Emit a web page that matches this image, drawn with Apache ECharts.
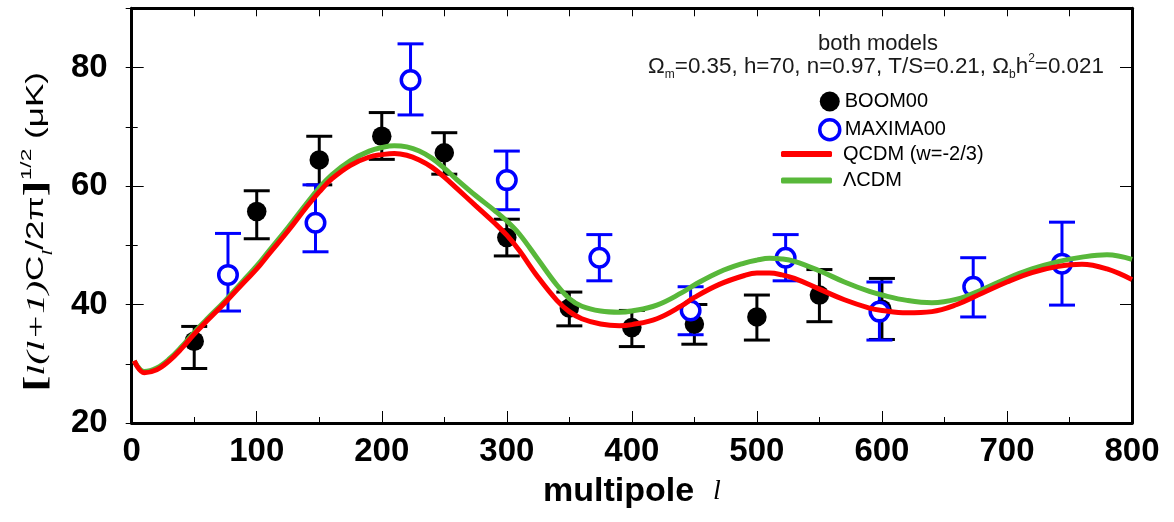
<!DOCTYPE html>
<html><head><meta charset="utf-8">
<script src="https://cdn.jsdelivr.net/npm/echarts@6/dist/echarts.min.js"></script>
<style>html,body{margin:0;padding:0;background:#fff}#c{width:1174px;height:522px}</style>
</head><body><div id="c"></div>
<script>
// ---- data ----
const ells = [2,10,20,30,40,50,60,75,90,100,110,125,140,150,160,175,190,200,210,220,230,240,250,260,275,290,300,310,325,340,350,360,375,390,400,420,440,450,470,490,500,510,520,530,550,570,590,600,620,640,660,680,700,720,740,760,780,800];
const qcdm = [30.5,28.5,29.0,30.5,32.6,35.0,37.2,40.4,43.8,46.0,48.6,52.4,56.5,59.0,61.2,63.5,64.9,65.3,65.5,65.2,64.4,63.2,61.5,59.6,56.7,53.8,51.7,49.1,44.6,40.7,38.8,37.6,36.7,36.4,36.6,37.6,39.8,41.2,43.4,44.9,45.3,45.3,45.0,44.4,42.6,40.8,39.4,39.0,38.6,38.8,40.0,41.9,43.8,45.4,46.4,46.8,46.0,44.2];
const lcdm = [30.5,28.7,29.3,30.8,32.9,35.3,37.5,40.7,44.2,46.5,49.1,53.0,57.1,59.7,61.9,64.3,65.9,66.5,66.8,66.6,65.9,64.7,63.0,61.1,58.4,55.9,54.1,51.9,47.6,43.3,41.0,39.7,38.9,38.7,38.9,39.9,42.0,43.3,45.5,47.0,47.5,47.8,47.7,47.3,45.7,43.8,42.2,41.6,40.7,40.3,40.9,42.5,44.4,46.0,47.2,48.0,48.4,47.6];

const boomL  = [50,100,150,200,250,300,350,400,450,500,550,600];
const boomY  = [33.8,55.7,64.4,68.4,65.6,51.3,39.4,36.1,36.7,37.9,41.6,39.2];
const boomHi = [36.3,59.2,68.4,72.4,69.0,54.4,42.1,39.0,40.0,41.6,45.9,44.4];
const boomLo = [29.2,51.1,60.2,64.5,62.0,48.2,36.4,32.9,33.3,34.0,37.1,34.1];

const maxL  = [77,147,223,300,374,447,523,598,673,744];
const maxY  = [45.0,53.8,77.9,61.0,47.9,39.0,47.9,38.8,43.0,46.9];
const maxHi = [52.0,60.2,84.0,65.9,51.8,43.0,51.8,43.8,47.9,53.9];
const maxLo = [38.9,48.9,72.0,56.0,44.0,34.9,44.0,34.0,37.9,39.9];

const xTicks = {min:0, max:800, step:100};
const yTicks = {min:20, max:90, step:20};

// ---- chart ----
const RED = '#ff0000', GREEN = '#58b83a', BLUE = '#0000ff';
const SANS = '"Liberation Sans", Arial, sans-serif';
const SERIF = '"Liberation Serif", "Times New Roman", serif';

function errBar(color){
  return function(params, api){
    const x = api.value(0), lo = api.value(1), hi = api.value(2);
    const a = api.coord([x, lo]), b = api.coord([x, hi]);
    const w = 13, st = {stroke: color, lineWidth: 3};
    return {type:'group', children:[
      {type:'line', shape:{x1:a[0], y1:a[1], x2:b[0], y2:b[1]}, style:st},
      {type:'line', shape:{x1:a[0]-w, y1:a[1], x2:a[0]+w, y2:a[1]}, style:st},
      {type:'line', shape:{x1:b[0]-w, y1:b[1], x2:b[0]+w, y2:b[1]}, style:st}
    ]};
  };
}

const axisLine = {show:true, onZero:false, lineStyle:{color:'#000', width:3}};
const tickStyle = {color:'#000', width:1};
const bigLabel = {fontSize:33, fontWeight:'bold', color:'#000', fontFamily:SANS};

const chart = echarts.init(document.getElementById('c'), null, {renderer:'canvas'});
chart.setOption({
  animation:false,
  backgroundColor:'#fff',
  grid:{left:131.7, right:42, top:8.3, bottom:99, containLabel:false, outerBoundsMode:'none'},
  xAxis:[
    {type:'value', position:'bottom', min:xTicks.min, max:xTicks.max, interval:xTicks.step,
     axisLine, axisTick:{inside:true, length:12, lineStyle:tickStyle},
     minorTick:{show:true, splitNumber:2, length:6, lineStyle:tickStyle},
     splitLine:{show:false}, minorSplitLine:{show:false},
     axisLabel:Object.assign({margin:12}, bigLabel),
     name:'{a|multipole  }{b|l}', nameLocation:'middle', nameGap:52,
     nameTextStyle:{rich:{
       a:{fontSize:34, fontWeight:'bold', fontFamily:SANS, color:'#000'},
       b:{fontSize:28, fontStyle:'italic', fontFamily:SERIF, color:'#000'}
     }}},
    {type:'value', position:'top', min:xTicks.min, max:xTicks.max, interval:xTicks.step/2,
     axisLine, axisTick:{inside:true, length:8, lineStyle:tickStyle},
     axisLabel:{show:false}, splitLine:{show:false}}
  ],
  yAxis:[
    {type:'value', position:'left', min:yTicks.min, max:yTicks.max, interval:yTicks.step,
     axisLine, axisTick:{inside:true, length:12, lineStyle:tickStyle},
     axisLabel:Object.assign({margin:24, showMaxLabel:false}, bigLabel), splitLine:{show:false}},
    {type:'value', position:'right', min:yTicks.min, max:yTicks.max, interval:yTicks.step,
     axisLine, axisTick:{inside:true, length:12, lineStyle:tickStyle},
     axisLabel:{show:false}, splitLine:{show:false}},
    {type:'value', position:'left', min:yTicks.min, max:yTicks.max, interval:yTicks.step/2,
     axisLine:{show:false}, axisTick:{inside:true, length:6, lineStyle:tickStyle},
     axisLabel:{show:false}, splitLine:{show:false}},
    {type:'value', position:'right', min:yTicks.min, max:yTicks.max, interval:yTicks.step/2,
     axisLine:{show:false}, axisTick:{inside:true, length:6, lineStyle:tickStyle},
     axisLabel:{show:false}, splitLine:{show:false}}
  ],
  legend:[
    {orient:'vertical', left:818, top:91.5, padding:0, itemWidth:20, itemHeight:20, itemGap:6.5, selectedMode:false,
     textStyle:{fontSize:20, fontFamily:SANS, color:'#000'},
     data:[
       {name:'BOOM00', icon:'circle', itemStyle:{color:'#000', borderWidth:0, opacity:1}},
       {name:'MAXIMA00', icon:'circle', itemStyle:{color:'#fff', borderColor:BLUE, borderWidth:3.5, opacity:1}}
     ]},
    {orient:'vertical', left:781, top:144, padding:0, itemWidth:51, itemHeight:6, itemGap:6.5, selectedMode:false,
     textStyle:{fontSize:20, fontFamily:SANS, color:'#000', padding:[0,0,0,6]},
     data:[
       {name:'QCDM (w=-2/3)', icon:'roundRect', itemStyle:{color:RED}},
       {name:'ΛCDM', icon:'roundRect', itemStyle:{color:GREEN}}
     ]}
  ],
  graphic:[
    {type:'text', x:878, y:44, silent:true,
     style:{text:'both models', font:'22px ' + SANS, fill:'#1a1a1a', align:'center', verticalAlign:'middle'}},
    {type:'text', x:876, y:67, silent:true,
     style:{text:'{t|Ω}{s|m}{t|=0.35, h=70, n=0.97, T/S=0.21, Ω}{s|b}{t|h}{p|2}{t|=0.021}',
       align:'center', verticalAlign:'middle',
       rich:{
         t:{fontSize:22.4, fontFamily:SANS, fill:'#1a1a1a', lineHeight:28, verticalAlign:'middle'},
         s:{fontSize:12, fontFamily:SANS, fill:'#1a1a1a', lineHeight:12, verticalAlign:'bottom'},
         p:{fontSize:12, fontFamily:SANS, fill:'#1a1a1a', lineHeight:12, verticalAlign:'top'}
       }}},
    {type:'text', x:37, y:232, rotation:Math.PI/2, scaleX:1.52, scaleY:1, silent:true,
     style:{text:'{br|[}{it|l(l+1)}{n|C}{sub|l}{n|/2π}{br|]}{sup|1/2}{n| (μK)}',
       align:'center', verticalAlign:'middle',
       rich:{
         br:{fontSize:32, fontWeight:'bold', fontFamily:SERIF, fill:'#000', lineHeight:36, verticalAlign:'middle'},
         it:{fontSize:26, fontStyle:'italic', fontFamily:SERIF, fill:'#000', lineHeight:36, verticalAlign:'middle'},
         n:{fontSize:23, fontFamily:SANS, fill:'#000', lineHeight:36, verticalAlign:'middle'},
         sub:{fontSize:14, fontStyle:'italic', fontFamily:SERIF, fill:'#000', lineHeight:14, verticalAlign:'bottom'},
         sup:{fontSize:15, fontFamily:SANS, fill:'#000', lineHeight:14, verticalAlign:'top'}
       }}}
  ],
  series:[
    {name:'ΛCDM', type:'line', data:ells.map((l,i)=>[l,lcdm[i]]), showSymbol:false, symbol:'none', smooth:0.4,
     lineStyle:{color:GREEN, width:5}, itemStyle:{color:GREEN}},
    {name:'QCDM (w=-2/3)', type:'line', data:ells.map((l,i)=>[l,qcdm[i]]), showSymbol:false, symbol:'none', smooth:0.4,
     lineStyle:{color:RED, width:5}, itemStyle:{color:RED}},
    {name:'BOOM00 errors', type:'custom', renderItem:errBar('#000'), encode:{x:0, y:[1,2]},
     data:boomL.map((l,i)=>[l,boomLo[i],boomHi[i]])},
    {name:'BOOM00', type:'scatter', symbol:'circle', symbolSize:19.5, itemStyle:{color:'#000', opacity:1},
     data:boomL.map((l,i)=>[l,boomY[i]])},
    {name:'MAXIMA00 errors', type:'custom', renderItem:errBar(BLUE), encode:{x:0, y:[1,2]},
     data:maxL.map((l,i)=>[l,maxLo[i],maxHi[i]])},
    {name:'MAXIMA00', type:'scatter', symbol:'circle', symbolSize:18.5,
     itemStyle:{color:'#fff', borderColor:BLUE, borderWidth:3.5, opacity:1},
     data:maxL.map((l,i)=>[l,maxY[i]])}
  ]
});
</script>
</body></html>
